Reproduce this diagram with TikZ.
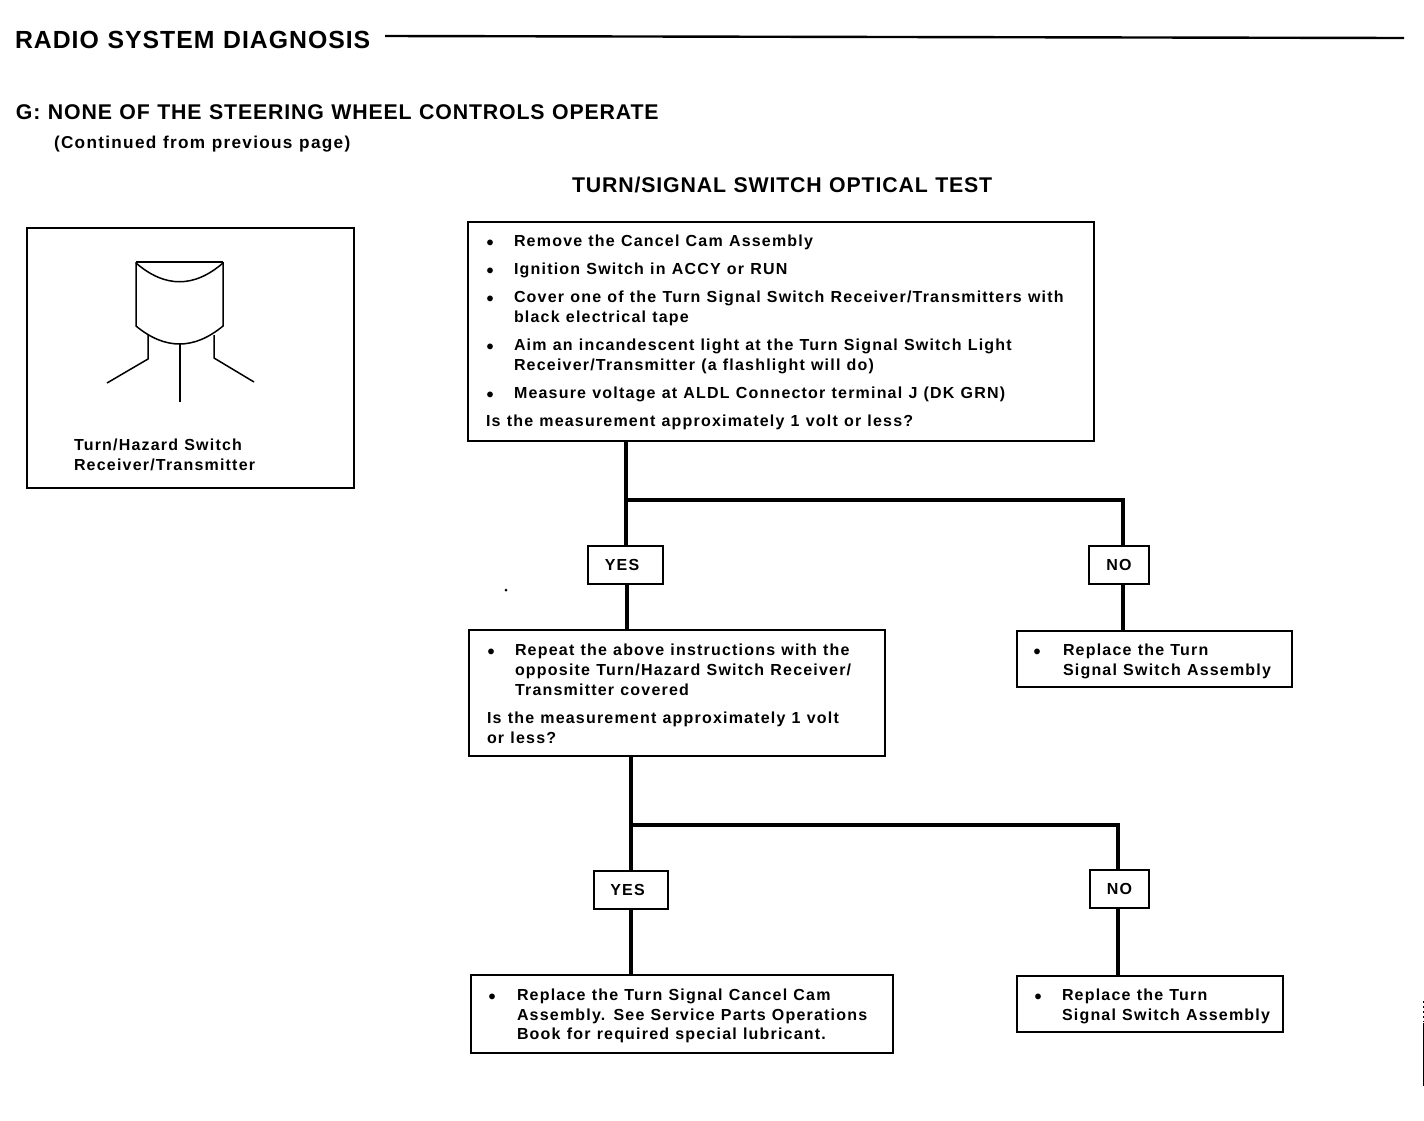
\documentclass[tikz,border=0pt]{standalone}
\usepackage{fontspec}
\setmainfont{Liberation Sans}
\newfontfamily\bodyfam[LetterSpace=7.5,WordSpace=1.1]{Liberation Sans}
\newfontfamily\headfam[LetterSpace=4,WordSpace=1.1]{Liberation Sans}
\tikzset{
  frame/.style={draw=black,fill=none,line width=1.4pt,inner sep=0pt,outer sep=0pt},
  tag/.style={frame,font=\bodyfam\bfseries\fontsize{16}{18}\selectfont},
  txt/.style={anchor=base west,inner sep=0pt,outer sep=0pt,yshift=1pt,font=\bodyfam\bfseries\fontsize{16}{18}\selectfont},
  bul/.style={anchor=base,inner sep=0pt,outer sep=0pt,yshift=-2pt,font=\bfseries\fontsize{20}{22}\selectfont},
  title/.style={anchor=base west,inner sep=0pt,outer sep=0pt,font=\headfam\bfseries\fontsize{24.8}{28}\selectfont},
  headg/.style={anchor=base west,inner sep=0pt,outer sep=0pt,font=\headfam\bfseries\fontsize{21.3}{28}\selectfont},
  link/.style={draw=black,line width=3.4pt},
  thin/.style={draw=black,line width=1.5pt}
}
\begin{document}
\begin{tikzpicture}[x=1pt,y=-1pt]
\useasboundingbox[fill=white] (0,0) rectangle (1424,1120);
% heading
\node[title] (head) at (15,48.5) {RADIO SYSTEM DIAGNOSIS};
\coordinate (ruleA) at (385,36);
\coordinate (ruleB) at (1404,38);
\draw[draw=black,line width=2.4pt] (ruleA) -- (ruleB);
\node[headg] (sub) at (16,119.5) {G:\ NONE OF THE STEERING WHEEL CONTROLS OPERATE};
\node[txt,font=\bodyfam\bfseries\fontsize{17.2}{20}\selectfont] (cont) at (54,149) {(Continued from previous page)};
\node[headg] (test) at (572,192) {TURN/SIGNAL SWITCH OPTICAL TEST};
% left frame
\node[frame,minimum width=327pt,minimum height=260pt] (pic) at (190.5,358) {};
\draw[thin] (136,262) -- (223,262);
\draw[thin] (136,263) .. controls (165,288) and (194,288) .. (223,263);
\draw[thin] (136,262) -- (136,326) .. controls (165,350) and (194,350) .. (223,326) -- (223,262);
\draw[thin] (148,335) -- (148,359) -- (107,383);
\draw[thin] (180,344) -- (180,402);
\draw[thin] (214,335) -- (214,358) -- (254,382);
\node[txt] (capA) at (74,451) {Turn/Hazard Switch};
\node[txt] (capB) at (74,471) {Receiver/Transmitter};
% boxes
\node[frame,minimum width=626pt,minimum height=219pt] (b1) at (781,331.5) {};
\node[frame,minimum width=416pt,minimum height=126pt] (b2) at (677,693) {};
\node[frame,minimum width=275pt,minimum height=56pt] (b3) at (1154.5,659) {};
\node[frame,minimum width=422pt,minimum height=78pt] (b4) at (682,1014) {};
\node[frame,minimum width=266pt,minimum height=56pt] (b5) at (1150,1004) {};
\node[tag,minimum width=75pt,minimum height=38pt] (y1) at (625.5,565) {YES\rule{7pt}{0pt}};
\node[tag,minimum width=60pt,minimum height=38pt] (n1) at (1119,565) {NO};
\node[tag,minimum width=74pt,minimum height=38pt] (y2) at (631,890) {YES\rule{7pt}{0pt}};
\node[tag,minimum width=59pt,minimum height=38pt] (n2) at (1119.5,889) {NO};
% connectors
\coordinate (j1) at (626,500);
\coordinate (r1) at (1123,500);
\coordinate (j2) at (631,825);
\coordinate (r2) at (1118,825);
\coordinate (v1) at (627,600);
\draw[link] (b1.south -| j1) -- (y1.north -| j1);
\draw[link] (j1) -- (r1) -- (n1.north -| r1);
\draw[link] (y1.south -| v1) -- (b2.north -| v1);
\draw[link] (n1.south -| r1) -- (b3.north -| r1);
\draw[link] (b2.south -| j2) -- (y2.north -| j2);
\draw[link] (j2) -- (r2) -- (n2.north -| r2);
\draw[link] (y2.south -| j2) -- (b4.north -| j2);
\draw[link] (n2.south -| r2) -- (b5.north -| r2);
% box 1
\foreach \n/\y in {a/247,b/275,c/303,d/351,e/399}{\node[bul] (bu\n) at (490,\y) {•};}
\node[txt] (l1) at (514,247) {Remove the Cancel Cam Assembly};
\node[txt] (l2) at (514,275) {Ignition Switch in ACCY or RUN};
\node[txt] (l3) at (514,303) {Cover one of the Turn Signal Switch Receiver/Transmitters with};
\node[txt] (l4) at (514,323) {black electrical tape};
\node[txt] (l5) at (514,351) {Aim an incandescent light at the Turn Signal Switch Light};
\node[txt] (l6) at (514,371) {Receiver/Transmitter (a flashlight will do)};
\node[txt] (l7) at (514,399) {Measure voltage at ALDL Connector terminal J (DK GRN)};
\node[txt] (l8) at (486,427) {Is the measurement approximately 1 volt or less?};
% box 2
\node[bul] (buf) at (491,656) {•};
\node[txt] (m1) at (515,656) {Repeat the above instructions with the};
\node[txt] (m2) at (515,676) {opposite Turn/Hazard Switch Receiver/};
\node[txt] (m3) at (515,696) {Transmitter covered};
\node[txt] (m4) at (487,724) {Is the measurement approximately 1 volt};
\node[txt] (m5) at (487,744) {or less?};
% box 3
\node[bul] (bug) at (1037,656) {•};
\node[txt] (n31) at (1063,656) {Replace the Turn};
\node[txt] (n32) at (1063,676) {Signal Switch Assembly};
% box 4
\node[bul] (buh) at (492,1001) {•};
\node[txt] (p1) at (517,1001) {Replace the Turn Signal Cancel Cam};
\node[txt] (p2) at (517,1021) {Assembly. See Service Parts Operations};
\node[txt] (p3) at (517,1040) {Book for required special lubricant.};
% box 5
\node[bul] (bui) at (1038,1001) {•};
\node[txt] (q1) at (1062,1001) {Replace the Turn};
\node[txt] (q2) at (1062,1021) {Signal Switch Assembly};
% scan marks
\draw[draw=black,line width=1pt] (1423,1023) -- (1423,1086);
\draw[draw=black,line width=1pt,dash pattern=on 2pt off 3pt] (1423,1001) -- (1423,1022);
\fill[black] (506,590) circle (1.5pt);
\end{tikzpicture}
\end{document}
